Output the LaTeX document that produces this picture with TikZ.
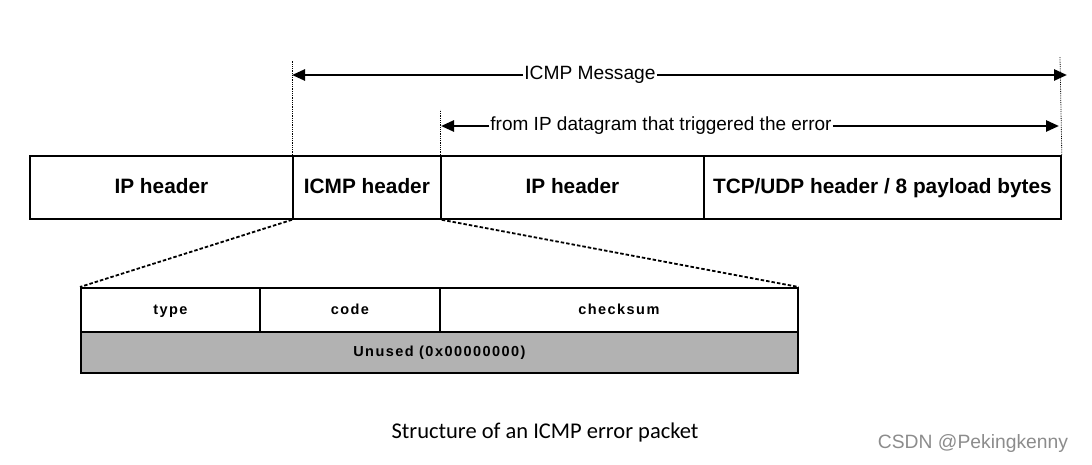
\documentclass[tikz,border=0pt]{standalone}
\usepackage{fontspec}
\setmainfont{Liberation Sans}
\newfontfamily\capfont{Carlito}
\newfontfamily\spacedfont[LetterSpace=10]{Liberation Sans}
\usetikzlibrary{arrows.meta}
\begin{document}
\begin{tikzpicture}[x=1pt,y=-1pt,
  field/.style={draw=black,line width=1.8pt,inner sep=0pt},
  big/.style={font=\fontsize{20.8}{24}\selectfont\bfseries,text height=0.72em,text depth=0.2em,yshift=-4pt},
  small/.style={font=\spacedfont\fontsize{14.5}{16}\selectfont\bfseries,text height=0.72em,text depth=0.22em,yshift=-2pt},
  guide/.style={densely dotted,line width=0.8pt},
  zoomline/.style={dash pattern=on 3.5pt off 2pt,line width=1.8pt},
  span/.style={line width=2.6pt,-{Triangle[length=13pt,width=11pt]}},
  lbl/.style={fill=white,inner sep=1pt,font=\fontsize{19.2}{22}\selectfont}]
\useasboundingbox (0,0) rectangle (1092,465);
% top packet
\node[field,minimum width=263pt,minimum height=63pt,anchor=north west] (iph) at (29,155) {};
\node[field,minimum width=148pt,minimum height=63pt,anchor=north west] (icmph) at (292,155) {};
\node[field,minimum width=263pt,minimum height=63pt,anchor=north west] (iph2) at (440,155) {};
\node[field,minimum width=357pt,minimum height=63pt,anchor=north west] (tcp) at (703,155) {};
\node[big] at (iph.center) {IP header};
\node[big] at (icmph.center) {ICMP header};
\node[big] at (iph2.center) {IP header};
\node[big] at (tcp.center) {TCP/UDP header / 8 payload bytes};
% guides
\coordinate (g1) at (292,60);
\coordinate (g2) at (440,110);
\coordinate (g3) at (1060,57);
\draw[guide] (icmph.north west) -- (g1);
\draw[guide] (iph2.north west) -- (g2);
\draw[guide] (tcp.north east) -- (g3);
% spans
\node[lbl] (m1) at (590,75) {ICMP Message};
\coordinate (a1l) at (292,75);
\coordinate (a1r) at (1067,75);
\draw[span] (m1.west) -- (a1l);
\draw[span] (m1.east) -- (a1r);
\node[lbl,font=\fontsize{19}{22}\selectfont] (m2) at (661,126) {from IP datagram that triggered the error};
\coordinate (a2l) at (441,126);
\coordinate (a2r) at (1059,126);
\draw[span] (m2.west) -- (a2l);
\draw[span] (m2.east) -- (a2r);
% lower box
\node[field,minimum width=179pt,minimum height=44pt,anchor=north west] (type) at (80,287) {};
\node[field,minimum width=180pt,minimum height=44pt,anchor=north west] (code) at (259,287) {};
\node[field,minimum width=358pt,minimum height=44pt,anchor=north west] (cks) at (439,287) {};
\node[field,fill=black!30,minimum width=717pt,minimum height=41pt,anchor=north west] (unused) at (80,331) {};
\node[small] at (type.center) {type};
\node[small] at (code.center) {code};
\node[small] at (cks.center) {checksum};
\node[small] at (unused.center) {Unused (0x00000000)};
\draw[zoomline] (icmph.south west) -- (type.north west);
\draw[zoomline] (icmph.south east) -- (cks.north east);
% caption
\node[font=\capfont\fontsize{22.5}{26}\selectfont] (cap) at (545,432) {Structure of an ICMP error packet};
\node[font=\fontsize{19.3}{22}\selectfont,text=black!45] (wm) at (973,444) {CSDN @Pekingkenny};
\end{tikzpicture}
\end{document}
